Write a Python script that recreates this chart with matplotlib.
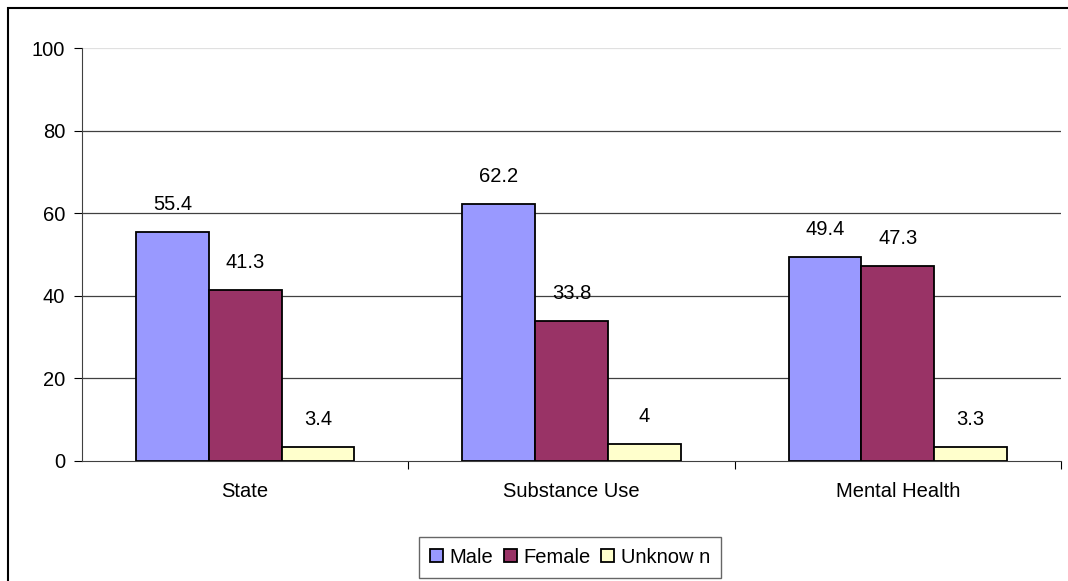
import matplotlib.pyplot as plt
import numpy as np
from matplotlib.patches import Rectangle

plt.rcParams['font.family'] = ['Liberation Sans', 'DejaVu Sans']

categorias = ["State", "Substance Use", "Mental Health"]
series = ["Male", "Female", "Unknow n"]
male = [55.4, 62.2, 49.4]
female = [41.3, 33.8, 47.3]
unknown = [3.4, 4, 3.3]
colores = ["#9999FF", "#993366", "#FFFFCC"]
fs = 14.5

fig = plt.figure(figsize=(10.68, 5.81), dpi=100)
ax = fig.add_axes([82 / 1068, 1 - 461 / 581, (1061 - 82) / 1068, (461 - 48) / 581])

# marco exterior del grafico
fig.patches.append(Rectangle((8 / 1068, -0.1), 1.2, 1 - 8 / 581 + 0.1,
                             transform=fig.transFigure, fill=False,
                             edgecolor="black", linewidth=1.5))

x = np.arange(len(categorias))
ancho = 0.223
for i, (vals, color, nombre) in enumerate(zip([male, female, unknown], colores, series)):
    ax.bar(x + (i - 1) * ancho, vals, ancho, color=color, edgecolor="black",
           linewidth=1.3, label=nombre, zorder=3)
    for xi, v in zip(x + (i - 1) * ancho, vals):
        ax.annotate(f"{v:g}", (xi, v), xytext=(0, 13), textcoords="offset points",
                    ha="center", va="bottom", fontsize=fs)

ax.set_xlim(-0.5, 2.5)
ax.set_ylim(0, 100)
ax.set_yticks(range(0, 101, 20))
ax.tick_params(axis="y", labelsize=fs, length=6, width=0.8, pad=6)
ax.set_xticks(x)
ax.set_xticklabels(categorias, fontsize=fs)
ax.tick_params(axis="x", length=0, pad=15)
# marcas entre categorias
ax.set_xticks([0.5, 1.5, 2.5], minor=True)
ax.tick_params(axis="x", which="minor", length=6, width=0.8, direction="out")

for y in range(20, 81, 20):
    ax.axhline(y, color="#404040", linewidth=0.9, zorder=1)
ax.axhline(100, color="#e0e0e0", linewidth=0.9, zorder=1)

for lado in ["top", "right"]:
    ax.spines[lado].set_visible(False)
ax.spines["left"].set_color("#404040")
ax.spines["bottom"].set_color("#404040")

leg = ax.legend(loc="center", bbox_to_anchor=((570 - 82) / 979, -0.233),
                ncol=3, fontsize=fs, frameon=True, fancybox=False,
                handlelength=0.65, handleheight=0.65, handletextpad=0.35,
                columnspacing=0.5, borderpad=0.55)
leg.get_frame().set_edgecolor("#404040")
leg.get_frame().set_linewidth(1.0)

fig.savefig("out.png", dpi=100)
